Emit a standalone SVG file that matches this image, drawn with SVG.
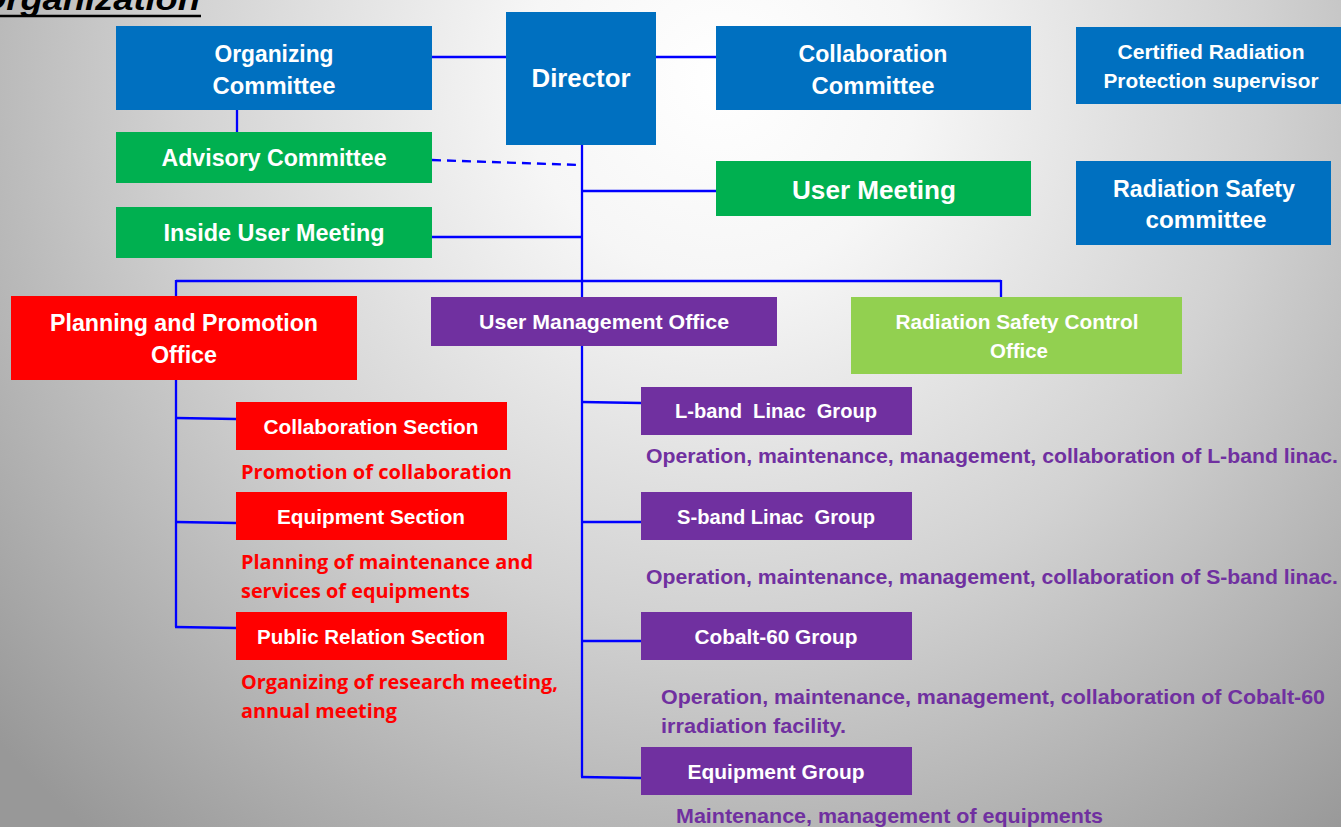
<svg xmlns="http://www.w3.org/2000/svg" width="1341" height="827" viewBox="0 0 1341 827">
<defs>
<radialGradient id="bg" gradientUnits="userSpaceOnUse" cx="720" cy="80" r="980">
<stop offset="0" stop-color="#FFFFFF"/>
<stop offset="0.2" stop-color="#F6F6F6"/>
<stop offset="0.55" stop-color="#D2D2D2"/>
<stop offset="1" stop-color="#989898"/>
</radialGradient>
</defs>
<style>
text{font-family:"Liberation Sans",Arial,sans-serif;font-weight:bold;}
.w{fill:#FFFFFF;text-anchor:middle;}
.blue{fill:#0070C0;}
.green{fill:#00B050;}
.red{fill:#FF0000;}
.purple{fill:#7030A0;}
.lgreen{fill:#92D050;}
.dr{fill:#FF0000;font-family:"Open Sans","Liberation Sans",sans-serif;}
.dp{fill:#7030A0;}
.c{stroke:#0000FF;stroke-width:2.3;fill:none;}
</style>
<rect width="1341" height="827" fill="url(#bg)"/>
<g id="title">
<text x="-22" y="10" font-size="31" font-style="italic" fill="#000000" textLength="222" lengthAdjust="spacingAndGlyphs">Organization</text>
<line x1="0" y1="16" x2="201" y2="16" stroke="#000000" stroke-width="2.5"/>
</g>
<g id="connectors">
<line class="c" x1="432" y1="57" x2="506" y2="57"/>
<line class="c" x1="656" y1="57" x2="716" y2="57"/>
<line class="c" x1="237" y1="110" x2="237" y2="132"/>
<line class="c" x1="432" y1="160" x2="582" y2="165" stroke-dasharray="9,6" stroke-width="2.6"/>
<line class="c" x1="582" y1="145" x2="582" y2="777"/>
<line class="c" x1="582" y1="191" x2="716" y2="191"/>
<line class="c" x1="432" y1="237" x2="582" y2="237"/>
<line class="c" x1="176" y1="281" x2="1001" y2="281" stroke-width="3"/>
<line class="c" x1="176" y1="280" x2="176" y2="627"/>
<line class="c" x1="1001" y1="280" x2="1001" y2="297"/>
<line class="c" x1="176" y1="418" x2="236" y2="419"/>
<line class="c" x1="176" y1="522" x2="236" y2="523"/>
<line class="c" x1="175" y1="627" x2="236" y2="628"/>
<line class="c" x1="582" y1="402" x2="641" y2="403"/>
<line class="c" x1="582" y1="522" x2="641" y2="522"/>
<line class="c" x1="582" y1="641" x2="641" y2="641"/>
<line class="c" x1="581" y1="777" x2="641" y2="778"/>
</g>
<g id="organizing-committee">
<rect class="blue" x="116" y="26" width="316" height="84"/>
<text class="w" x="274" y="62" font-size="24" textLength="119" lengthAdjust="spacingAndGlyphs">Organizing</text>
<text class="w" x="274" y="94" font-size="24" textLength="123" lengthAdjust="spacingAndGlyphs">Committee</text>
</g>
<g id="director">
<rect class="blue" x="506" y="12" width="150" height="133"/>
<text class="w" x="581" y="87" font-size="25" textLength="99" lengthAdjust="spacingAndGlyphs">Director</text>
</g>
<g id="collaboration-committee">
<rect class="blue" x="716" y="26" width="315" height="84"/>
<text class="w" x="873" y="62" font-size="24" textLength="149" lengthAdjust="spacingAndGlyphs">Collaboration</text>
<text class="w" x="873" y="94" font-size="24" textLength="123" lengthAdjust="spacingAndGlyphs">Committee</text>
</g>
<g id="certified-supervisor">
<rect class="blue" x="1076" y="27" width="265" height="77"/>
<text class="w" x="1211" y="59" font-size="21" textLength="187" lengthAdjust="spacingAndGlyphs">Certified Radiation</text>
<text class="w" x="1211" y="88" font-size="21" textLength="215" lengthAdjust="spacingAndGlyphs">Protection supervisor</text>
</g>
<g id="advisory-committee">
<rect class="green" x="116" y="132" width="316" height="51"/>
<text class="w" x="274" y="166" font-size="23" textLength="225" lengthAdjust="spacingAndGlyphs">Advisory Committee</text>
</g>
<g id="inside-user-meeting">
<rect class="green" x="116" y="207" width="316" height="51"/>
<text class="w" x="274" y="241" font-size="23" textLength="221" lengthAdjust="spacingAndGlyphs">Inside User Meeting</text>
</g>
<g id="user-meeting">
<rect class="green" x="716" y="161" width="315" height="55"/>
<text class="w" x="874" y="199" font-size="26" textLength="164" lengthAdjust="spacingAndGlyphs">User Meeting</text>
</g>
<g id="radiation-safety-committee">
<rect class="blue" x="1076" y="161" width="255" height="84"/>
<text class="w" x="1204" y="197" font-size="23" textLength="182" lengthAdjust="spacingAndGlyphs">Radiation Safety</text>
<text class="w" x="1206" y="228" font-size="23" textLength="121" lengthAdjust="spacingAndGlyphs">committee</text>
</g>
<g id="planning-promotion-office">
<rect class="red" x="11" y="296" width="346" height="84"/>
<text class="w" x="184" y="331" font-size="24" textLength="268" lengthAdjust="spacingAndGlyphs">Planning and Promotion</text>
<text class="w" x="184" y="363" font-size="24" textLength="66" lengthAdjust="spacingAndGlyphs">Office</text>
</g>
<g id="user-management-office">
<rect class="purple" x="431" y="297" width="346" height="49"/>
<text class="w" x="604" y="329" font-size="21" textLength="250" lengthAdjust="spacingAndGlyphs">User Management Office</text>
</g>
<g id="radiation-safety-control-office">
<rect class="lgreen" x="851" y="297" width="331" height="77"/>
<text class="w" x="1017" y="329" font-size="21" textLength="243" lengthAdjust="spacingAndGlyphs">Radiation Safety Control</text>
<text class="w" x="1019" y="358" font-size="21" textLength="58" lengthAdjust="spacingAndGlyphs">Office</text>
</g>
<g id="collaboration-section">
<rect class="red" x="236" y="402" width="271" height="48"/>
<text class="w" x="371" y="434" font-size="21" textLength="215" lengthAdjust="spacingAndGlyphs">Collaboration Section</text>
<text class="dr" x="241" y="479" font-size="20" textLength="271" lengthAdjust="spacingAndGlyphs">Promotion of collaboration</text>
</g>
<g id="equipment-section">
<rect class="red" x="236" y="492" width="271" height="48"/>
<text class="w" x="371" y="524" font-size="21" textLength="188" lengthAdjust="spacingAndGlyphs">Equipment Section</text>
<text class="dr" x="241" y="569" font-size="20" textLength="292" lengthAdjust="spacingAndGlyphs">Planning of maintenance and</text>
<text class="dr" x="241" y="598" font-size="20" textLength="229" lengthAdjust="spacingAndGlyphs">services of equipments</text>
</g>
<g id="public-relation-section">
<rect class="red" x="236" y="612" width="271" height="48"/>
<text class="w" x="371" y="644" font-size="20" textLength="228" lengthAdjust="spacingAndGlyphs">Public Relation Section</text>
<text class="dr" x="241" y="689" font-size="20" textLength="317" lengthAdjust="spacingAndGlyphs">Organizing of research meeting,</text>
<text class="dr" x="241" y="718" font-size="20" textLength="156" lengthAdjust="spacingAndGlyphs">annual meeting</text>
</g>
<g id="l-band-linac-group">
<rect class="purple" x="641" y="387" width="271" height="48"/>
<text class="w" x="776" y="418" font-size="21" textLength="202" lengthAdjust="spacingAndGlyphs" xml:space="preserve">L-band  Linac  Group</text>
<text class="dp" x="646" y="463" font-size="21" textLength="692" lengthAdjust="spacingAndGlyphs">Operation, maintenance, management, collaboration of L-band linac.</text>
</g>
<g id="s-band-linac-group">
<rect class="purple" x="641" y="492" width="271" height="48"/>
<text class="w" x="776" y="524" font-size="21" textLength="198" lengthAdjust="spacingAndGlyphs" xml:space="preserve">S-band Linac  Group</text>
<text class="dp" x="646" y="584" font-size="21" textLength="692" lengthAdjust="spacingAndGlyphs">Operation, maintenance, management, collaboration of S-band linac.</text>
</g>
<g id="cobalt-60-group">
<rect class="purple" x="641" y="612" width="271" height="48"/>
<text class="w" x="776" y="644" font-size="21" textLength="163" lengthAdjust="spacingAndGlyphs">Cobalt-60 Group</text>
<text class="dp" x="661" y="704" font-size="21" textLength="664" lengthAdjust="spacingAndGlyphs">Operation, maintenance, management, collaboration of Cobalt-60</text>
<text class="dp" x="661" y="733" font-size="21" textLength="185" lengthAdjust="spacingAndGlyphs">irradiation facility.</text>
</g>
<g id="equipment-group">
<rect class="purple" x="641" y="747" width="271" height="48"/>
<text class="w" x="776" y="779" font-size="21" textLength="177" lengthAdjust="spacingAndGlyphs">Equipment Group</text>
<text class="dp" x="676" y="823" font-size="21" textLength="427" lengthAdjust="spacingAndGlyphs">Maintenance, management of equipments</text>
</g>
</svg>
